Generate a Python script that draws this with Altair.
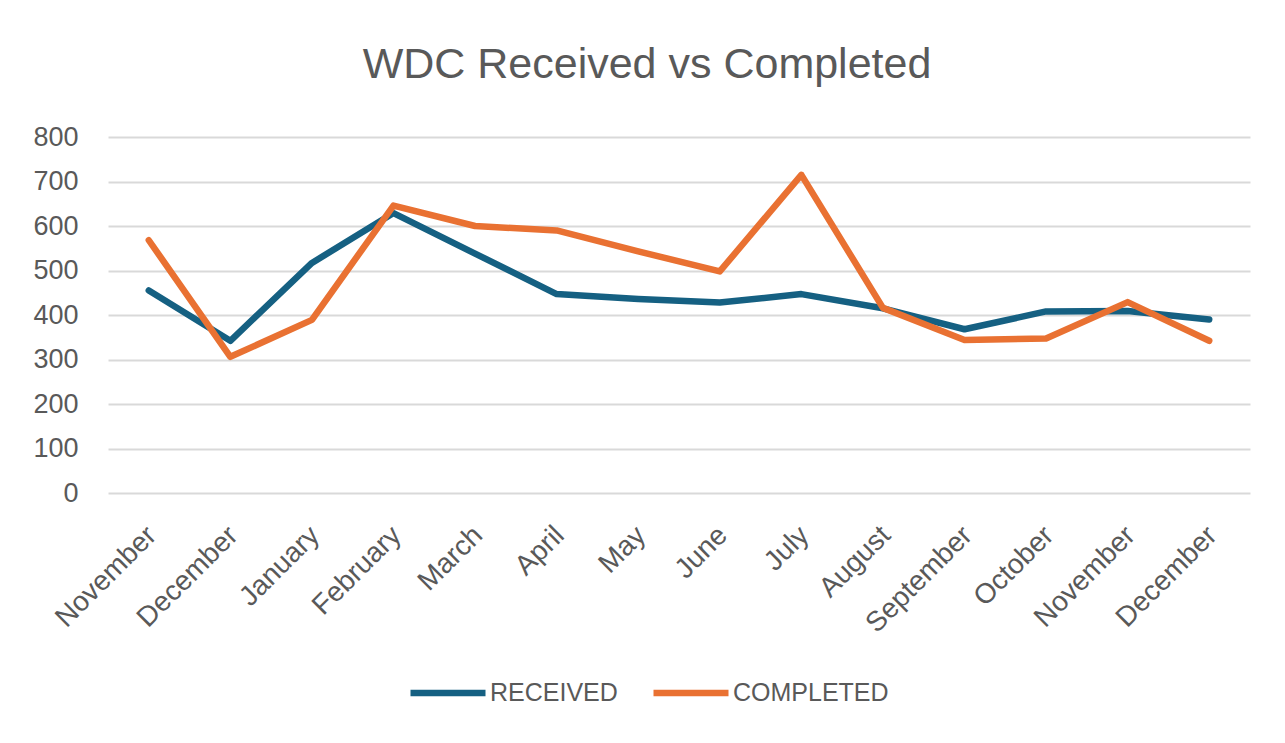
import altair as alt
import pandas as pd

months = ["November", "December", "January", "February", "March", "April", "May",
          "June", "July", "August", "September", "October", "November", "December"]
received = [455, 342, 517, 629, 538, 447, 436, 428, 447, 415, 368, 408, 409, 390]
completed = [568, 306, 389, 646, 600, 590, 543, 498, 715, 416, 344, 347, 429, 342]
series = ["RECEIVED", "COMPLETED"]
colors = ["#156082", "#E97132"]
y_ticks = [0, 100, 200, 300, 400, 500, 600, 700, 800]

rows = []
for i, m in enumerate(months):
    rows.append({"idx": i, "month": m, "series": series[0], "value": received[i]})
    rows.append({"idx": i, "month": m, "series": series[1], "value": completed[i]})
df = pd.DataFrame(rows)

label_expr = "[" + ",".join("'" + m + "'" for m in months) + "][datum.value]"

text_color = "#595959"
font = "Liberation Sans"

chart = alt.Chart(df).mark_line(strokeWidth=6.5, strokeCap="round", strokeJoin="round").encode(
    x=alt.X("idx:O", scale=alt.Scale(type="point", padding=0.5),
            axis=alt.Axis(title=None, labelExpr=label_expr, labelAngle=-45, labelFontSize=28,
                          labelColor=text_color, labelFont=font, domain=False, ticks=False,
                          labelPadding=28, labelOffset=-7, grid=False)),
    y=alt.Y("value:Q", scale=alt.Scale(domain=[0, 800], nice=False),
            axis=alt.Axis(title=None, values=y_ticks, labelFontSize=27, labelColor=text_color,
                          labelFont=font, domain=False, ticks=False, labelPadding=30,
                          gridColor="#D9D9D9", gridWidth=2)),
    color=alt.Color("series:N", scale=alt.Scale(domain=series, range=colors),
                    legend=alt.Legend(title=None, orient="none", direction="horizontal",
                                      legendX=299, legendY=515,
                                      symbolType="stroke", symbolSize=5625, symbolStrokeWidth=6.5,
                                      labelFontSize=25, labelColor=text_color,
                                      labelFont="Liberation Sans Narrow, Liberation Sans",
                                      labelOffset=1, columnPadding=22)),
    order="idx:O",
).properties(
    width=1142,
    height=356,
    padding={"left": 100, "top": 129, "right": 27, "bottom": 242},
    autosize=alt.AutoSizeParams(type="none"),
    title=alt.TitleParams("WDC Received vs Completed", fontSize=43, font=font, fontWeight="normal",
                          color=text_color, anchor="middle", dx=-32, offset=36),
).configure_view(stroke=None)

chart.save("out.html", embed_options={"renderer": "svg", "actions": False})
